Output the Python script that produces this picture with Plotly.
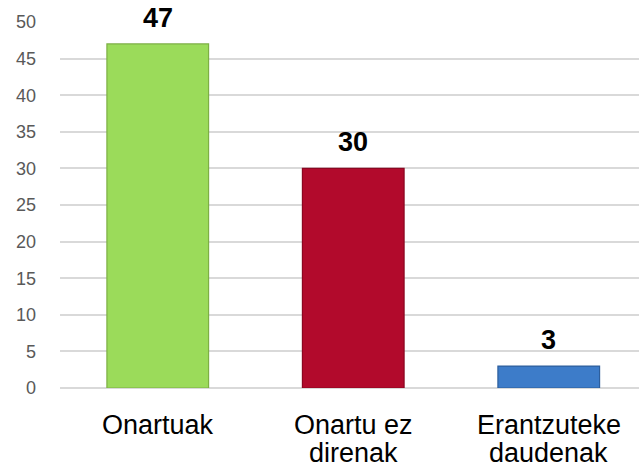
import plotly.graph_objects as go

categories = ["Onartuak", "Onartu ez direnak", "Erantzuteke daudenak"]
label_lines = [["Onartuak"], ["Onartu ez", "direnak"], ["Erantzuteke", "daudenak"]]
values = [47, 30, 3]
colors = ["#9BDB5A", "#B20A2C", "#3D7CC9"]
edge_colors = ["#7DAF44", "#8C0621", "#2D5E9C"]
y_ticks = [0, 5, 10, 15, 20, 25, 30, 35, 40, 45, 50]

FONT = "Liberation Sans, Arial, sans-serif"
x_idx = list(range(len(categories)))

fig = go.Figure()
fig.add_trace(go.Bar(
    x=x_idx, y=values, width=0.52,
    marker=dict(color=colors, line=dict(color=edge_colors, width=1.2)),
    hoverinfo="skip",
))

annotations = []
for i, v in enumerate(values):
    annotations.append(dict(
        x=i, y=v, xref="x", yref="y", text=str(v), showarrow=False,
        yanchor="bottom", yshift=9,
        font=dict(family=FONT, size=27, color="#000000", weight="bold"),
    ))
    for j, line in enumerate(label_lines[i]):
        annotations.append(dict(
            x=i, y=0, xref="x", yref="paper", text=line, showarrow=False,
            yanchor="top", yshift=-20 - 28 * j,
            font=dict(family=FONT, size=27, color="#000000"),
        ))

fig.update_layout(
    width=639, height=469,
    margin=dict(l=60, r=0, t=22, b=81),
    paper_bgcolor="white", plot_bgcolor="white",
    showlegend=False,
    bargap=0.48,
    xaxis=dict(range=[-0.5, -0.5 + 579 / 195.5], showticklabels=False,
               showgrid=False, zeroline=False, showline=False, ticks=""),
    yaxis=dict(range=[0, 50], tickvals=y_ticks, showgrid=True,
               gridcolor="#D9D9D9", gridwidth=1.5, zeroline=True,
               zerolinecolor="#D9D9D9", zerolinewidth=1.5, showline=False,
               ticks="", ticklabelstandoff=23,
               tickfont=dict(family=FONT, size=18, color="#595959")),
    annotations=annotations,
)

fig.write_html("out.html", config={"displayModeBar": False},
               post_script="document.body.style.margin='0';")
